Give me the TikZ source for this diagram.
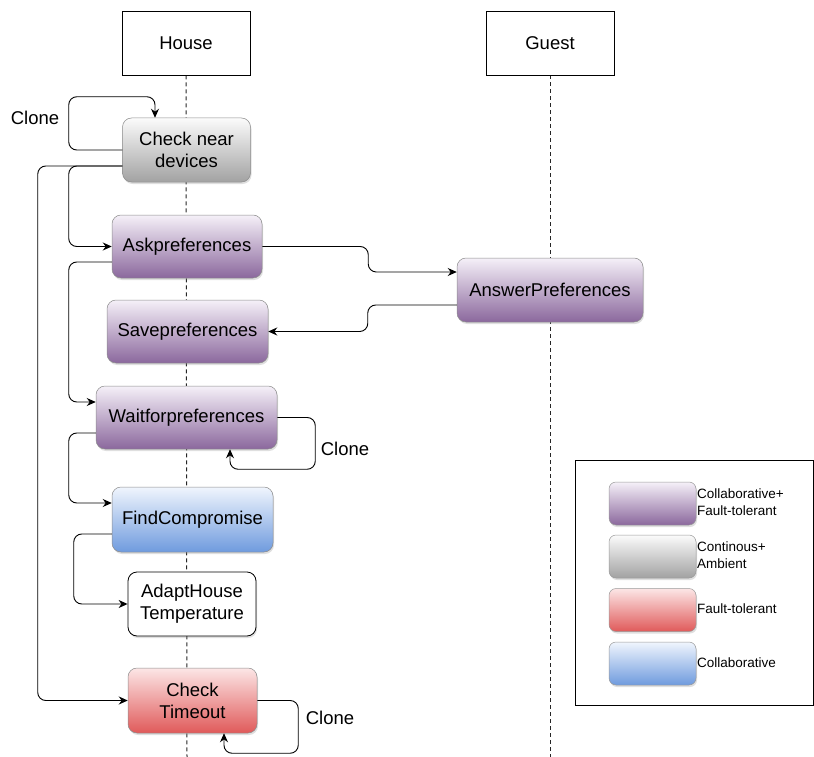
\documentclass[tikz,border=0pt]{standalone}
\usepackage{fontspec}
\setmainfont{Liberation Sans}
\usetikzlibrary{arrows.meta,shadows,backgrounds}
\definecolor{pTop}{HTML}{F5F0F8}
\definecolor{pMid}{HTML}{C4AED0}
\definecolor{pBot}{HTML}{8B689D}
\definecolor{gTop}{HTML}{FBFBFB}
\definecolor{gMid}{HTML}{D8D8D8}
\definecolor{gBot}{HTML}{A2A2A2}
\definecolor{rTop}{HTML}{FCE6E6}
\definecolor{rMid}{HTML}{F09C9C}
\definecolor{rBot}{HTML}{E05A5A}
\definecolor{bTop}{HTML}{F0F5FD}
\definecolor{bMid}{HTML}{B3CBEF}
\definecolor{bBot}{HTML}{6F9BDE}
\tikzset{
  mainfont/.style={font=\fontsize{18.5}{22}\selectfont},
  lane/.style={draw=black, line width=0.8pt, fill=white, minimum width=128pt, minimum height=64pt, mainfont},
  task/.style={rounded corners=9pt, draw=black!45, line width=0.5pt, mainfont, align=center, inner sep=2pt,
     drop shadow={opacity=0.25, shadow xshift=1pt, shadow yshift=-2pt}},
  purp/.style={task, top color=pTop, middle color=pMid, bottom color=pBot},
  gry/.style={task, top color=gTop, middle color=gMid, bottom color=gBot},
  rd/.style={task, top color=rTop, middle color=rMid, bottom color=rBot},
  blu/.style={task, top color=bTop, middle color=bMid, bottom color=bBot},
  plain/.style={task, fill=white, draw=black, line width=0.8pt, drop shadow={opacity=0}},
  conn/.style={line width=0.9pt, rounded corners=8pt, -{Stealth[length=9pt,width=8pt]}},
  lifeline/.style={line width=1pt, black!85, dash pattern=on 4pt off 3pt},
  lbl/.style={mainfont, inner sep=0pt},
  legtext/.style={font=\fontsize{13.5}{17}\selectfont, align=left, anchor=west, inner sep=0pt},
  swatch/.style={rounded corners=7pt, draw=black!40, line width=0.5pt, minimum width=87pt, minimum height=43pt,
     drop shadow={opacity=0.25, shadow xshift=1pt, shadow yshift=-2pt}},
}
\begin{document}
\begin{tikzpicture}[x=1pt,y=-1pt]
\useasboundingbox (0,0) rectangle (814,757);
% lanes
\node[lane] (house) at (186,43) {House};
\node[lane] (guest) at (550,43) {Guest};
\coordinate (houseEnd) at (187,757);
\coordinate (guestEnd) at (550,757);
% tasks
\node[gry, minimum width=128pt, minimum height=64pt] (cnd) at (186.5,150) {Check near\\devices};
\node[purp, minimum width=150pt, minimum height=63pt] (ask) at (187,246.5) {Askpreferences};
\node[purp, minimum width=161pt, minimum height=63pt] (save) at (187.5,331.5) {Savepreferences};
\node[purp, minimum width=186pt, minimum height=64pt] (answer) at (550,290) {AnswerPreferences};
\node[purp, minimum width=181pt, minimum height=63pt] (wait) at (186.5,417.5) {Waitforpreferences};
\node[blu, minimum width=161pt, minimum height=65pt] (find) at (192.5,519.5) {FindCompromise};
\node[plain, minimum width=128pt, minimum height=64pt] (adapt) at (192,604) {AdaptHouse\\Temperature};
\node[rd, minimum width=129pt, minimum height=65pt] (timeout) at (192.5,700.5) {Check\\Timeout};
% lifelines
\begin{pgfonlayer}{background}
\draw[lifeline] (house.south) -- (houseEnd);
\draw[lifeline] (guest.south) -- (guestEnd);
\end{pgfonlayer}
% connectors
\draw[conn] (cnd.west) -- ++(-53.5,0) |- ([xshift=-31.5pt,yshift=21pt]cnd.north) -- ([xshift=-31.5pt]cnd.north);
\node[lbl] (clone1) at (35,118) {Clone};
\draw[conn] ([yshift=-16pt]cnd.west) -- ++(-84.5,0) |- (timeout.west);
\draw[conn] ([yshift=-16pt]cnd.west) -- ++(-53.5,0) |- (ask.west);
\draw[conn] ([yshift=-15.5pt]ask.west) -- ++(-43,0) |- ([yshift=15.5pt]wait.west);
\draw[conn] (ask.east) -- ++(106,0) |- ([yshift=18pt]answer.west);
\draw[conn] ([yshift=-15pt]answer.west) -- ++(-89,0) |- (save.east);
\draw[conn] (wait.east) -- ++(38,0) |- ([xshift=43.5pt,yshift=-20pt]wait.south) -- ([xshift=43.5pt]wait.south);
\node[lbl] (clone2) at (345,449) {Clone};
\draw[conn] ([yshift=-15.5pt]wait.west) -- ++(-27,0) |- ([yshift=16.5pt]find.west);
\draw[conn] ([yshift=-14.5pt]find.west) -- ++(-38,0) |- (adapt.west);
\draw[conn] (timeout.east) -- ++(41,0) |- ([xshift=31.5pt,yshift=-20pt]timeout.south) -- ([xshift=31.5pt]timeout.south);
\node[lbl] (clone3) at (330,718) {Clone};
% legend
\node[draw=black, line width=0.8pt, minimum width=238pt, minimum height=245pt, inner sep=0pt] (legend) at (694,582.5) {};
\node[swatch, top color=pTop, middle color=pMid, bottom color=pBot] (sw1) at (652.5,503.5) {};
\node[legtext] (t1) at (697,502) {Collaborative+\\Fault-tolerant};
\node[swatch, top color=gTop, middle color=gMid, bottom color=gBot] (sw2) at (652.5,556.5) {};
\node[legtext] (t2) at (697,555) {Continous+\\Ambient};
\node[swatch, top color=rTop, middle color=rMid, bottom color=rBot] (sw3) at (652.5,610) {};
\node[legtext] (t3) at (697,609) {Fault-tolerant};
\node[swatch, top color=bTop, middle color=bMid, bottom color=bBot] (sw4) at (652.5,663.5) {};
\node[legtext] (t4) at (697,663) {Collaborative};
\end{tikzpicture}
\end{document}
